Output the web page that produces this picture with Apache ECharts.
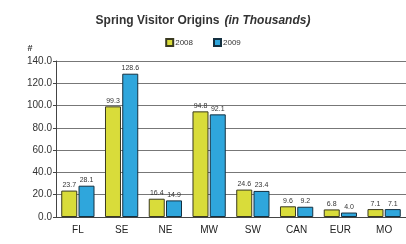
<!DOCTYPE html>
<html>
<head>
<meta charset="utf-8">
<script src="https://cdn.jsdelivr.net/npm/echarts@6/dist/echarts.min.js"></script>
<style>
  html, body { margin: 0; padding: 0; background: #fff; }
  #chart { width: 406px; height: 244px; }
</style>
</head>
<body>
<div id="chart"></div>
<script>
// 来源地区
const regions = ['FL', 'SE', 'NE', 'MW', 'SW', 'CAN', 'EUR', 'MO'];
const visitors2008 = [23.7, 99.3, 16.4, 94.8, 24.6, 9.6, 6.8, 7.1];
const visitors2009 = [28.1, 128.6, 14.9, 92.1, 23.4, 9.2, 4.0, 7.1];
const seriesNames = ['2008', '2009'];

const myChart = echarts.init(document.getElementById('chart'));

const labelStyle = {
  show: true,
  position: 'top',
  distance: 2,
  fontSize: 7,
  color: '#333',
  fontFamily: 'Liberation Sans',
  formatter: p => p.value.toFixed(1)
};

myChart.setOption({
  backgroundColor: '#fff',
  animation: false,
  title: {
    text: '{b|Spring Visitor Origins} {i|(in Thousands)}',
    left: 'center',
    top: 7,
    textStyle: {
      rich: {
        b: { fontSize: 12, fontWeight: 'bold', color: '#333', fontFamily: 'Liberation Sans' },
        i: { fontSize: 12, fontStyle: 'italic', color: '#333', fontFamily: 'Liberation Sans' }
      }
    }
  },
  legend: {
    data: seriesNames,
    top: 33,
    left: 'center',
    itemWidth: 7,
    itemHeight: 7,
    itemGap: 20,
    icon: 'rect',
    textStyle: { fontSize: 8, color: '#333', fontFamily: 'Liberation Sans', padding: [0, 0, 0, -3] }
  },
  grid: {
    left: 56,
    right: -2,
    top: 61,
    bottom: 27,
    containLabel: false
  },
  xAxis: {
    type: 'category',
    data: regions,
    axisTick: { show: false },
    axisLine: { show: true, lineStyle: { color: '#444', width: 1 } },
    axisLabel: { fontSize: 10, color: '#222', fontFamily: 'Liberation Sans', margin: 8 }
  },
  yAxis: {
    type: 'value',
    name: '#',
    nameLocation: 'end',
    nameGap: 8,
    nameTextStyle: { fontSize: 9, fontWeight: 'bold', color: '#333', padding: [0, 52, 0, 0] },
    min: 0,
    max: 140,
    interval: 20,
    axisLine: { show: true, lineStyle: { color: '#444' } },
    axisTick: { show: true, length: 3, lineStyle: { color: '#444' } },
    axisLabel: {
      fontSize: 10,
      color: '#333',
      fontFamily: 'Liberation Sans',
      margin: 4,
      formatter: v => v.toFixed(1)
    },
    splitLine: { show: true, lineStyle: { color: '#777', width: 1.2 } }
  },
  series: [
    {
      name: seriesNames[0],
      type: 'bar',
      data: visitors2008,
      barWidth: 16,
      barGap: '8%',
      itemStyle: { color: '#d9dc3a', borderColor: '#3a3a20', borderWidth: 1 },
      label: labelStyle
    },
    {
      name: seriesNames[1],
      type: 'bar',
      data: visitors2009,
      barWidth: 16,
      itemStyle: { color: '#2fa6dc', borderColor: '#143040', borderWidth: 1 },
      label: labelStyle
    }
  ]
});
</script>
</body>
</html>
